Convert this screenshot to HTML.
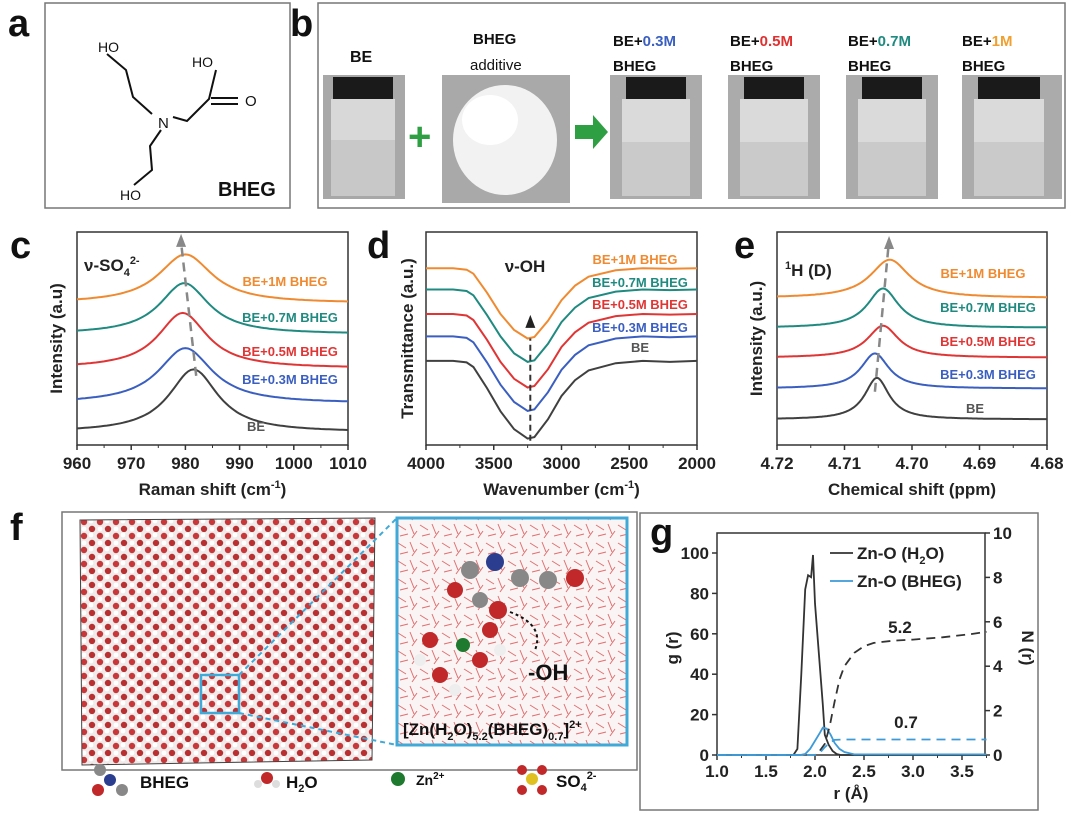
<!DOCTYPE html>
<html><head><meta charset="utf-8"><style>
body{margin:0;background:#fff;width:1080px;height:819px;overflow:hidden;font-family:"Liberation Sans",Arial,sans-serif}
svg{display:block}
text{font-family:"Liberation Sans",Arial,sans-serif}
.tk{font-size:17px;font-weight:bold;fill:#222}
.at{font-size:17px;font-weight:bold;fill:#222}
.lt{font-size:38px;font-weight:bold;fill:#111}
.lg{font-size:13px;font-weight:bold}
</style></head><body>
<svg id="fig" width="1080" height="819" viewBox="0 0 1080 819">
<defs>
<pattern id="atoms" width="16" height="14" patternUnits="userSpaceOnUse">
<rect width="16" height="14" fill="#f0eaea"/>
<circle cx="4" cy="4" r="3.2" fill="#c8383a"/><circle cx="12" cy="11" r="3.2" fill="#b83032"/>
<circle cx="11" cy="3" r="2.4" fill="#ffffff"/><circle cx="4" cy="11" r="2.4" fill="#ffffff"/>
</pattern>
<pattern id="lines" width="22" height="18" patternUnits="userSpaceOnUse">
<rect width="22" height="18" fill="#fbf4f4"/>
<path d="M2 3 L10 8 M14 2 L18 12 M4 14 L12 12 M16 16 L21 9" stroke="#e07070" stroke-width="1"/>
</pattern>
</defs>

<!-- panel a -->
<g>
<text class="lt" x="8" y="36">a</text>
<rect x="45" y="3" width="245" height="205" fill="#fff" stroke="#777" stroke-width="1.5"/>
<g stroke="#111" stroke-width="2" fill="none">
<path d="M107 54 L126 70 L133 97 L152 114 M173 117 L187 121 L209 99 L216 70 M211 98 L238 98 M211 104 L238 104 M161 130 L150 146 L152 170 L134 185"/>
</g>
<text x="98" y="52" font-size="14" fill="#111">HO</text>
<text x="192" y="67" font-size="14" fill="#111">HO</text>
<text x="245" y="106" font-size="15" fill="#111">O</text>
<text x="158" y="128" font-size="15" fill="#111">N</text>
<text x="120" y="200" font-size="14" fill="#111">HO</text>
<text x="218" y="196" font-size="20" font-weight="bold" fill="#111">BHEG</text>
</g>

<!-- panel b -->
<g>
<text class="lt" x="290" y="36">b</text>
<rect x="318" y="3" width="747" height="205" fill="#fff" stroke="#777" stroke-width="1.5"/>
<text x="350" y="62" font-size="16" font-weight="bold" fill="#111">BE</text>
<text x="473" y="44" font-size="15" font-weight="bold" fill="#111">BHEG</text>
<text x="470" y="70" font-size="15" fill="#111">additive</text>
<g font-size="15" font-weight="bold" fill="#111">
<text x="613" y="46">BE+<tspan fill="#3a5fc0">0.3M</tspan></text><text x="613" y="71">BHEG</text>
<text x="730" y="46">BE+<tspan fill="#e03030">0.5M</tspan></text><text x="730" y="71">BHEG</text>
<text x="848" y="46">BE+<tspan fill="#1f8a80">0.7M</tspan></text><text x="848" y="71">BHEG</text>
<text x="962" y="46">BE+<tspan fill="#f0a030">1M</tspan></text><text x="962" y="71">BHEG</text>
</g>
<g><rect x="323" y="75" width="82" height="124" fill="#a8a8a8"/><rect x="333" y="77" width="60" height="22" fill="#1a1a1a"/><rect x="331" y="99" width="64" height="97" fill="#d8d8d8"/><rect x="331" y="140" width="64" height="56" fill="#c8c8c8"/></g>
<text x="408" y="150" font-size="40" font-weight="bold" fill="#2ea043">+</text>
<g><rect x="442" y="75" width="128" height="128" fill="#a9a9a9"/><ellipse cx="505" cy="140" rx="52" ry="55" fill="#f2f2f2"/><ellipse cx="490" cy="120" rx="28" ry="25" fill="#fff"/></g>
<path d="M575 125 L593 125 L593 115 L608 132 L593 149 L593 139 L575 139 Z" fill="#2ea043"/>
<g>
<rect x="610" y="75" width="92" height="124" fill="#ababab"/><rect x="626" y="77" width="60" height="22" fill="#1a1a1a"/><rect x="622" y="99" width="68" height="97" fill="#dadada"/><rect x="622" y="142" width="68" height="54" fill="#cacaca"/>
<rect x="728" y="75" width="92" height="124" fill="#ababab"/><rect x="744" y="77" width="60" height="22" fill="#1a1a1a"/><rect x="740" y="99" width="68" height="97" fill="#dadada"/><rect x="740" y="142" width="68" height="54" fill="#cacaca"/>
<rect x="846" y="75" width="92" height="124" fill="#ababab"/><rect x="862" y="77" width="60" height="22" fill="#1a1a1a"/><rect x="858" y="99" width="68" height="97" fill="#dadada"/><rect x="858" y="142" width="68" height="54" fill="#cacaca"/>
<rect x="962" y="75" width="100" height="124" fill="#ababab"/><rect x="978" y="77" width="62" height="22" fill="#1a1a1a"/><rect x="974" y="99" width="70" height="97" fill="#dadada"/><rect x="974" y="142" width="70" height="54" fill="#cacaca"/>
</g>
</g>

<text class="lt" x="10" y="258">c</text>
<text class="lt" x="367" y="258">d</text>
<text class="lt" x="734" y="258">e</text>
<g id="pc"></g>
<g id="pd"></g>
<g id="pe"></g>

<!-- panel f -->
<g>
<text class="lt" x="10" y="540">f</text>
<rect x="62" y="512" width="575" height="258" fill="#fff" stroke="#777" stroke-width="1.5"/>
<path d="M80 520 L375 518 L372 760 L82 765 Z" fill="url(#atoms)" stroke="#444" stroke-width="1"/>
<rect x="201" y="675" width="38" height="38" fill="none" stroke="#3fa9d8" stroke-width="2.5"/>
<path d="M239 675 L397 518 M239 713 L397 745" stroke="#3fa9d8" stroke-width="2" stroke-dasharray="5,4"/>
<rect x="397" y="518" width="230" height="227" fill="url(#lines)" stroke="#3fa9d8" stroke-width="3"/>
<g>
<circle cx="470" cy="570" r="9" fill="#888"/><circle cx="495" cy="562" r="9" fill="#2b3d8f"/><circle cx="520" cy="578" r="9" fill="#888"/><circle cx="548" cy="580" r="9" fill="#888"/><circle cx="575" cy="578" r="9" fill="#c0282a"/><circle cx="455" cy="590" r="8" fill="#c0282a"/><circle cx="498" cy="610" r="9" fill="#c0282a"/><circle cx="480" cy="600" r="8" fill="#888"/>
<circle cx="463" cy="645" r="7" fill="#1e7a2e"/><circle cx="430" cy="640" r="8" fill="#c0282a"/><circle cx="440" cy="675" r="8" fill="#c0282a"/><circle cx="480" cy="660" r="8" fill="#c0282a"/><circle cx="490" cy="630" r="8" fill="#c0282a"/>
<circle cx="420" cy="660" r="6" fill="#eee"/><circle cx="455" cy="690" r="6" fill="#eee"/><circle cx="500" cy="650" r="6" fill="#eee"/>
</g>
<path d="M510 612 Q545 625 535 650" stroke="#111" stroke-width="2" fill="none" stroke-dasharray="3,3"/>
<text x="528" y="680" font-size="22" font-weight="bold" fill="#111">-OH</text>
<text x="403" y="735" font-size="17" font-weight="bold" fill="#111">[Zn(H<tspan font-size="11" dy="5">2</tspan><tspan dy="-5">O)</tspan><tspan font-size="11" dy="5">5.2</tspan><tspan dy="-5">(BHEG)</tspan><tspan font-size="11" dy="5">0.7</tspan><tspan dy="-5">]</tspan><tspan font-size="11" dy="-7">2+</tspan></text>
<g>
<circle cx="100" cy="770" r="6" fill="#888"/><circle cx="110" cy="780" r="6" fill="#2b3d8f"/><circle cx="98" cy="790" r="6" fill="#c0282a"/><circle cx="122" cy="790" r="6" fill="#888"/>
<text x="140" y="788" font-size="17" font-weight="bold" fill="#111">BHEG</text>
<circle cx="267" cy="778" r="6" fill="#c0282a"/><circle cx="258" cy="784" r="4" fill="#ddd"/><circle cx="276" cy="784" r="4" fill="#ddd"/>
<text x="286" y="788" font-size="17" font-weight="bold" fill="#111">H<tspan font-size="11" dy="4">2</tspan><tspan dy="-4">O</tspan></text>
<circle cx="398" cy="779" r="7" fill="#1e7a2e"/>
<text x="416" y="785" font-size="14" font-weight="bold" fill="#111">Zn<tspan font-size="10" dy="-6">2+</tspan></text>
<circle cx="532" cy="779" r="6" fill="#e0c020"/><circle cx="522" cy="770" r="5" fill="#c0282a"/><circle cx="542" cy="770" r="5" fill="#c0282a"/><circle cx="522" cy="790" r="5" fill="#c0282a"/><circle cx="542" cy="790" r="5" fill="#c0282a"/>
<text x="556" y="787" font-size="17" font-weight="bold" fill="#111">SO<tspan font-size="11" dy="4">4</tspan><tspan font-size="11" dy="-12">2-</tspan></text>
</g>
</g>

<g>
<rect x="640" y="513" width="398" height="297" fill="none" stroke="#777" stroke-width="1.5"/>
<text class="lt" x="650" y="545">g</text>
</g>
<g id="pg"></g>
</svg>

<script>
// ---- data: panel c (Raman peak parameters) ----
var cSeries = ["BE","BE+0.3M BHEG","BE+0.5M BHEG","BE+0.7M BHEG","BE+1M BHEG"];
var cBase = [6, 19.5, 36, 52, 66.5];
var cHeight = [29.5, 26, 26, 24, 23];
var cCenter = [981.5, 980, 979.5, 979.8, 980];
var cWidth = [5.5, 6, 5.5, 5.5, 6];
var cXTicks = [960,970,980,990,1000,1010];
// ---- data: panel d (FTIR) ----
var dWave = [4000,3800,3700,3650,3550,3450,3350,3250,3200,3100,3000,2900,2800,2600,2400,2200,2000];
var dBE = [39.5,39.5,38.8,36.6,26.7,15.8,7.4,3,3.7,12.1,23,30.4,35,38.4,39.5,39,39.5];
var d03 = [51,51,50.3,48.2,38.8,28.3,20.2,16,16.7,24.8,35.3,42.3,46.8,50,51,50.6,51];
var d05 = [61.5,61.5,60.8,58.7,49.4,39,31.1,27,27.7,35.6,46,52.9,57.4,60.5,61.5,61.2,61.5];
var d07 = [73,73,72.3,70.3,61,51,43,39,39.7,47.5,57.7,64.5,69,72,73,72.7,73];
var d1 = [83,83,82.3,80.4,71.5,61.5,54,50,50.7,58.3,68,74.8,79,82,83,82.7,83];
var dXTicks = [4000,3500,3000,2500,2000];
// ---- data: panel e (NMR peak parameters) ----
var eBase = [12, 26.5, 41, 55, 69];
var eHeight = [19.5, 16.5, 15, 18.5, 18];
var eCenter = [4.7052, 4.7055, 4.7043, 4.7043, 4.7033];
var eWidth = [0.0022, 0.0025, 0.0028, 0.0028, 0.0035];
var eXTicks = [4.72,4.71,4.70,4.69,4.68];
// ---- data: panel g ----
var gR1 = [1.0,1.78,1.82,1.86,1.9,1.93,1.96,1.98,2.0,2.04,2.08,2.1,2.14,2.18,2.22,2.26,3.75];
var gH2O = [0,0,3,40,82,89,88,99,75,50,25,10,5,2,0.5,0,0];
var gR2 = [1.0,1.85,1.9,1.95,2.0,2.05,2.08,2.12,2.16,2.2,2.25,2.3,2.4,3.75];
var gBHEG = [0,0,0.5,3,7,11,13.5,13,10,6,3,1.5,0.3,0.3];
var nR1 = [2.05,2.1,2.15,2.2,2.25,2.3,2.4,2.5,2.6,2.8,3.0,3.3,3.6,3.75];
var nH2O = [0.2,0.5,1.3,2.4,3.4,4.0,4.6,4.9,5.05,5.15,5.2,5.3,5.45,5.55];
var nR2 = [1.0,2.0,2.05,2.1,2.15,2.2,2.3,3.75];
var nBHEG = [0,0,0.1,0.35,0.55,0.68,0.7,0.7];
var gXTicks = [1.0,1.5,2.0,2.5,3.0,3.5];
var gYTicks = [0,20,40,60,80,100];
var nYTicks = [0,2,4,6,8,10];

var colors = ["#404040","#3a5fc0","#e03535","#1f8a80","#f08a30"];
var NS = "http://www.w3.org/2000/svg";
function mk(parent, tag, attrs){var e=document.createElementNS(NS,tag);for(var k in attrs)e.setAttribute(k,attrs[k]);parent.appendChild(e);return e;}
function lin(d0,d1,r0,r1){return function(v){return r0+(v-d0)/(d1-d0)*(r1-r0);};}
function txt(p,x,y,s,cls,anchor,fill){var t=mk(p,"text",{x:x,y:y,"class":cls||"tk","text-anchor":anchor||"middle"});if(fill)t.setAttribute("fill",fill);t.textContent=s;return t;}

function frame(p,L,R,T,B,xs,ticks,fmt,xtitle,ytitle,ytx){
  var r=mk(p,"rect",{x:L,y:T,width:R-L,height:B-T,fill:"none",stroke:"#333","stroke-width":1.5});
  
  
  for(var i=0;i<ticks.length;i++){
    var x=xs(ticks[i]);
    mk(p,"line",{x1:x,x2:x,y1:B,y2:B+5,stroke:"#333","stroke-width":1.5});
    if(i<ticks.length-1){var xm=(x+xs(ticks[i+1]))/2;mk(p,"line",{x1:xm,x2:xm,y1:B,y2:B+3,stroke:"#333","stroke-width":1});}
    var t=txt(p,x,B+24,fmt(ticks[i]));
    
    
  }
  var xt=txt(p,(L+R)/2,B+50,"","at");
  xt.innerHTML=xtitle;
  
  
  var yt=mk(p,"text",{x:0,y:0,"class":"at","text-anchor":"middle",transform:"translate("+ytx+","+((T+B)/2)+") rotate(-90)"});
  yt.textContent=ytitle;
  
  
}
function path(p,pts,color,w,dash){
  var d="";for(var i=0;i<pts.length;i++)d+=(i?"L":"M")+pts[i][0].toFixed(1)+" "+pts[i][1].toFixed(1);
  var a={d:d,fill:"none",stroke:color,"stroke-width":w||2};if(dash)a["stroke-dasharray"]=dash;
  return mk(p,"path",a);
}

// panel c
(function(){
  var p=document.getElementById("pc");
  var L=77,R=348,T=232,B=445;
  var xs=lin(960,1010,L,R), ys=lin(0,100,B,T);
  frame(p,L,R,T,B,xs,cXTicks,function(v){return v;},"Raman shift  (cm<tspan font-size='11' dy='-7'>-1</tspan><tspan dy='7'>)</tspan>","Intensity (a.u)",62);
  for(var s=0;s<5;s++){
    var pts=[];
    for(var x=960;x<=1010;x+=0.5){var u=(x-cCenter[s])/cWidth[s];pts.push([xs(x),ys(cBase[s]+cHeight[s]/(1+u*u))]);}
    var e=path(p,pts,colors[s],2);
    
    
  }
  var a=path(p,[[xs(cCenter[0]+0.5),ys(cBase[0]+cHeight[0]-3)],[xs(979.2),ys(95)]],"#888",2.5,"9,6");
  mk(p,"path",{d:"M"+(xs(979.2)-5)+" "+ys(93)+" L"+xs(979.2)+" "+(ys(93)-13)+" L"+(xs(979.2)+5)+" "+ys(93)+"Z",fill:"#888"});
  var lab=[[256,431,"BE"],[290,384,"BE+0.3M BHEG"],[290,356,"BE+0.5M BHEG"],[290,322,"BE+0.7M BHEG"],[285,286,"BE+1M BHEG"]];
  for(var i=0;i<5;i++){var t=txt(p,lab[i][0],lab[i][1],lab[i][2],"lg","middle",i==0?"#555":colors[i]);}
  var v=txt(p,84,271,"","at","start");v.innerHTML="ν-SO<tspan font-size='11' dy='5'>4</tspan><tspan font-size='11' dy='-12'>2-</tspan>";
})();

// panel d
(function(){
  var p=document.getElementById("pd");
  var L=426,R=697,T=232,B=445;
  var xs=lin(4000,2000,L,R), ys=lin(0,100,B,T);
  frame(p,L,R,T,B,xs,dXTicks,function(v){return v;},"Wavenumber (cm<tspan font-size='11' dy='-7'>-1</tspan><tspan dy='7'>)</tspan>","Transmittance (a.u.)",413);
  var all=[dBE,d03,d05,d07,d1];
  for(var s=0;s<5;s++){
    var pts=[];for(var i=0;i<dWave.length;i++)pts.push([xs(dWave[i]),ys(all[s][i])]);
    var e=path(p,pts,colors[s],2);
    
    
  }
  path(p,[[xs(3230),ys(2)],[xs(3230),ys(50)]],"#333",2,"6,4");
  mk(p,"path",{d:"M"+(xs(3230)-5)+" "+ys(55)+" L"+xs(3230)+" "+(ys(55)-13)+" L"+(xs(3230)+5)+" "+ys(55)+"Z",fill:"#222"});
  var lab=[[640,352,"BE"],[640,332,"BE+0.3M BHEG"],[640,309,"BE+0.5M BHEG"],[640,287,"BE+0.7M BHEG"],[635,264,"BE+1M BHEG"]];
  for(var i=0;i<5;i++){var t=txt(p,lab[i][0],lab[i][1],lab[i][2],"lg","middle",i==0?"#555":colors[i]);}
  txt(p,525,272,"ν-OH","at","middle");
})();

// panel e
(function(){
  var p=document.getElementById("pe");
  var L=777,R=1047,T=232,B=445;
  var xs=lin(4.72,4.68,L,R), ys=lin(0,100,B,T);
  frame(p,L,R,T,B,xs,eXTicks,function(v){return v.toFixed(2);},"Chemical shift (ppm)","Intensity (a.u.)",762);
  for(var s=0;s<5;s++){
    var pts=[];
    for(var x=4.72;x>=4.68-1e-9;x-=0.0002){var u=(x-eCenter[s])/eWidth[s];pts.push([xs(x),ys(eBase[s]+eHeight[s]/(1+u*u))]);}
    var e=path(p,pts,colors[s],2);
    
    
  }
  path(p,[[xs(4.7055),ys(25)],[xs(4.7035),ys(93)]],"#888",2.5,"9,6");
  mk(p,"path",{d:"M"+(xs(4.7034)-5)+" "+ys(92)+" L"+xs(4.7034)+" "+(ys(92)-13)+" L"+(xs(4.7034)+5)+" "+ys(92)+"Z",fill:"#888"});
  var lab=[[975,413,"BE"],[988,379,"BE+0.3M BHEG"],[988,346,"BE+0.5M BHEG"],[988,312,"BE+0.7M BHEG"],[983,278,"BE+1M BHEG"]];
  for(var i=0;i<5;i++){var t=txt(p,lab[i][0],lab[i][1],lab[i][2],"lg","middle",i==0?"#555":colors[i]);}
  var h=txt(p,785,276,"","at","start");h.innerHTML="<tspan font-size='11' dy='-7'>1</tspan><tspan dy='7'>H (D)</tspan>";
})();

// panel g
(function(){
  var p=document.getElementById("pg");
  var L=717,R=985,T=533,B=755;
  var xs=lin(1.0,1.5,L,L+49), ys=lin(0,100,B,553), ns=lin(0,10,B,T);
  mk(p,"rect",{x:L,y:T,width:R-L,height:B-T,fill:"none",stroke:"#333","stroke-width":1.5});
  for(var i=0;i<gXTicks.length;i++){var x=xs(gXTicks[i]);mk(p,"line",{x1:x,x2:x,y1:B,y2:B+5,stroke:"#333","stroke-width":1.5});mk(p,"line",{x1:x+24.5,x2:x+24.5,y1:B,y2:B+3,stroke:"#333"});var t=txt(p,x,B+22,gXTicks[i].toFixed(1));}
  for(var i=0;i<gYTicks.length;i++){var y=ys(gYTicks[i]);mk(p,"line",{x1:L-5,x2:L,y1:y,y2:y,stroke:"#333","stroke-width":1.5});var t=txt(p,L-8,y+6,gYTicks[i],"tk","end");}
  for(var i=0;i<nYTicks.length;i++){var y=ns(nYTicks[i]);mk(p,"line",{x1:R,x2:R+5,y1:y,y2:y,stroke:"#333","stroke-width":1.5});var t=txt(p,R+8,y+6,nYTicks[i],"tk","start");}
  var pts;
  pts=[];for(var i=0;i<gR1.length;i++)pts.push([xs(gR1[i]),ys(gH2O[i])]);
  var a=path(p,pts,"#333",1.8);
  pts=[];for(var i=0;i<gR2.length;i++)pts.push([xs(gR2[i]),ys(gBHEG[i])]);
  var b=path(p,pts,"#3d9ad8",1.8);
  pts=[];for(var i=0;i<nR1.length;i++)pts.push([xs(nR1[i]),ns(nH2O[i])]);
  var c=path(p,pts,"#333",1.8,"9,6");
  pts=[];for(var i=0;i<nR2.length;i++)pts.push([xs(nR2[i]),ns(nBHEG[i])]);
  var d=path(p,pts,"#3d9ad8",1.8,"9,6");
  txt(p,900,633,"5.2","tk","middle","#222");
  txt(p,906,728,"0.7","tk","middle","#3d9ad8");
  mk(p,"line",{x1:830,x2:853,y1:553,y2:553,stroke:"#333","stroke-width":1.8});
  txt(p,857,559,"","tk","start","#222").innerHTML="Zn-O (H<tspan font-size='11' dy='5'>2</tspan><tspan dy='-5'>O)</tspan>";
  mk(p,"line",{x1:830,x2:853,y1:581,y2:581,stroke:"#3d9ad8","stroke-width":1.8});
  txt(p,857,587,"Zn-O (BHEG)","tk","start","#3d9ad8");
  var yt=mk(p,"text",{x:0,y:0,"class":"at","text-anchor":"middle",transform:"translate(678,648) rotate(-90)"});yt.textContent="g (r)";
  
  var nt=mk(p,"text",{x:0,y:0,"class":"at","text-anchor":"middle",transform:"translate(1022,648) rotate(90)"});nt.textContent="N (r)";
  
  var xt=txt(p,851,799,"r (Å)","at");
})();
</script>
</body></html>
